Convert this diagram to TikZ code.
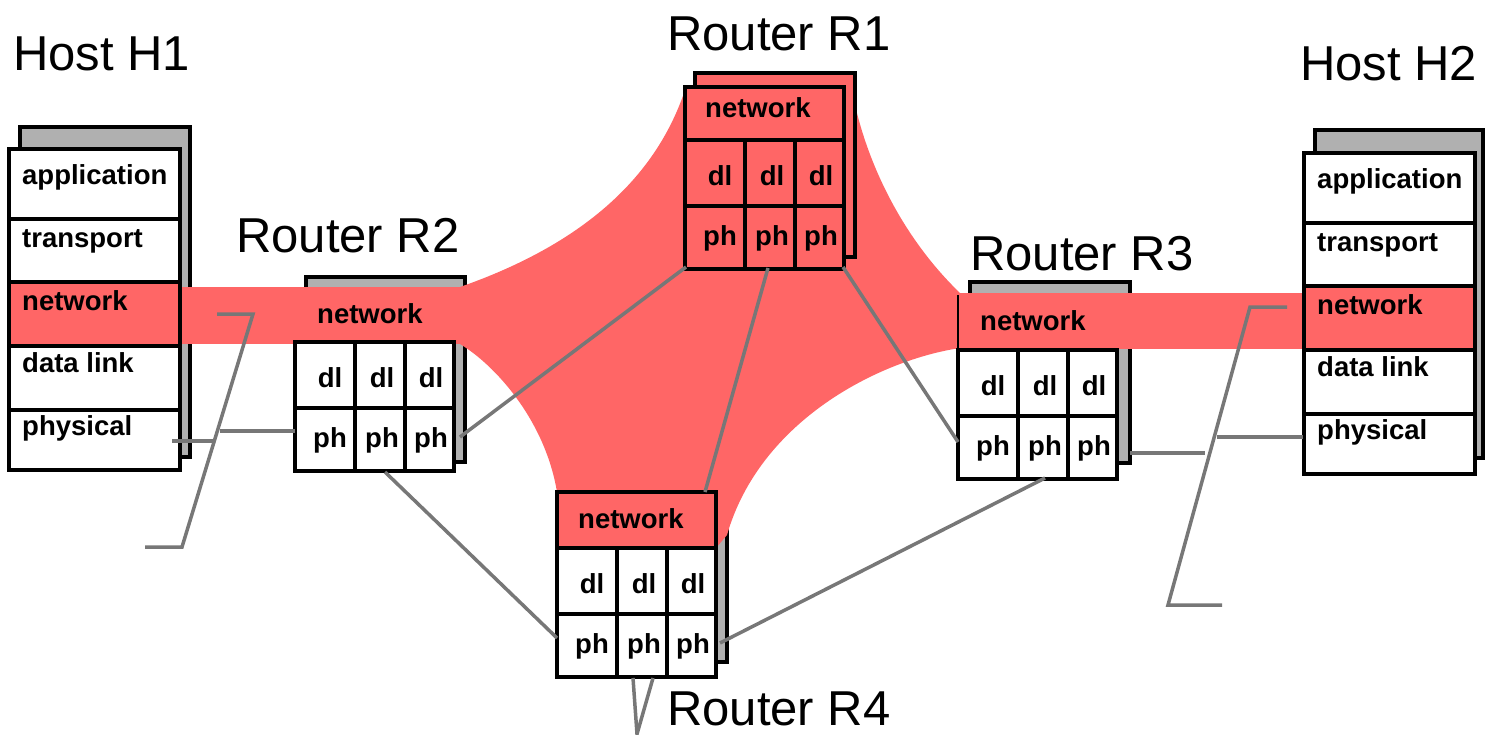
\documentclass[tikz,border=0pt]{standalone}
\usepackage{fontspec}
\setmainfont{Liberation Sans}
\usepackage{tikz}
\definecolor{cNet}{HTML}{FF6666}
\definecolor{cBack}{HTML}{B0B0B0}
\definecolor{cWire}{HTML}{777777}
\tikzset{
  backbox/.style={draw=black, fill=cBack, line width=4.5pt},
  netback/.style={draw=black, fill=cNet, line width=4.5pt},
  boxline/.style={draw=black, line width=4.5pt},
  cellline/.style={black, line width=4pt},
  wire/.style={cWire, line width=3.5pt},
  layertxt/.style={font=\fontsize{27.5}{30}\selectfont\bfseries, inner sep=0pt, anchor=base west},
  celltxt/.style={font=\fontsize{27.5}{30}\selectfont\bfseries, inner sep=0pt, anchor=base},
  title/.style={font=\fontsize{49}{52}\selectfont, inner sep=0pt, anchor=base west},
}
% host stack: name, left x, top y
\newcommand{\hoststack}[3]{%
  \fill[white] (#2,#3) rectangle ++(171,321);
  \fill[cNet] ({#2},{#3+133}) rectangle ++(171,64);
  \foreach \dy in {70,133,197,261} \draw[cellline] ({#2},{#3+\dy}) -- ++(171,0);
  \draw[boxline] (#2,#3) rectangle ++(171,321);
  \foreach \txt/\dy [count=\i] in {application/35,transport/98,network/161,data link/223,physical/286}
    \node[layertxt] (#1-\i) at ({#2+13},{#3+\dy}) {\txt};
}
% dl/ph grid of a router: [fill], name, left x, top y
\newcommand{\dlph}[4][white]{%
  \fill[#1] (#3,#4) rectangle ++(159,129);
  \draw[cellline] ({#3},{#4+66}) -- ++(159,0);
  \draw[cellline] ({#3+60},{#4}) -- ++(0,129);
  \draw[cellline] ({#3+110},{#4}) -- ++(0,129);
  \draw[boxline] (#3,#4) rectangle ++(159,129);
  \foreach \cx [count=\i] in {35,87,136} {
    \node[celltxt] (#2-dl\i) at ({#3+\cx},{#4+45}) {dl};
    \node[celltxt] (#2-ph\i) at ({#3+\cx},{#4+105}) {ph};
  }
}

\begin{document}
\begin{tikzpicture}[x=1pt, y=-1pt]
\useasboundingbox (0,0) rectangle (1491,734);

\node[title] (tH1) at (13,70) {Host H1};
\node[title] (tR1) at (667,50) {Router R1};
\node[title] (tR2) at (236,252) {Router R2};
\node[title] (tR3) at (970,270) {Router R3};
\node[title] (tH2) at (1300,80) {Host H2};
\node[title] (tR4) at (667,725) {Router R4};

\draw[backbox] (20,127) rectangle (190,457);
\draw[backbox] (1315,130) rectangle (1483,458);
\draw[backbox] (306,277) rectangle (465,462);
\draw[backbox] (970,282) rectangle (1130,463);
\draw[backbox] (568,478) rectangle (727,662);

\fill[cNet] (180,287) rectangle (470,344);
\fill[cNet] (955,293) rectangle (1304,349);
\fill[cNet] (460,287) .. controls (580,245) and (655,180) .. (685,90)
  -- (855,105) .. controls (870,170) and (905,240) .. (960,293)
  -- (960,348) .. controls (880,360) and (760,420) .. (727,535)
  -- (716,548) -- (557,548) -- (557,492)
  .. controls (545,420) and (495,365) .. (460,344) -- cycle;

\draw[netback] (695,73) rectangle (855,257);

\hoststack{H1}{9}{149}
\hoststack{H2}{1304}{153}

\dlph{R2}{295}{342}
\node[layertxt] (R2-net) at (317,323) {network};

\fill[cNet] (685,87) rectangle (843,140);
\dlph[cNet]{R1}{685}{140}
\draw[boxline] (685,87) rectangle (844,140);
\node[layertxt] (R1-net) at (705,117) {network};

\draw[line width=1.2pt] (958,295) -- (958,350);
\dlph{R3}{958}{350}
\node[layertxt] (R3-net) at (980,330) {network};

\draw[boxline, fill=cNet] (557,492) rectangle (716,548);
\dlph{R4}{557}{548}
\node[layertxt] (R4-net) at (578,528) {network};

\coordinate (h1ph) at (172,441);
\coordinate (h1cut) at (213,441);
\coordinate (r2cut) at (220,431);
\coordinate (r2w) at (295,431);
\coordinate (r2e) at (460,437);
\coordinate (r2s) at (385,472);
\coordinate (r1sw) at (686,267);
\coordinate (r1s) at (768,268);
\coordinate (r1se) at (843,267);
\coordinate (r3w) at (958,442);
\coordinate (r3s) at (1045,478);
\coordinate (r3e) at (1130,453);
\coordinate (h2cut) at (1205,453);
\coordinate (r3cut) at (1217,437);
\coordinate (h2ph) at (1303,437);
\coordinate (r4n) at (705,492);
\coordinate (r4w) at (557,638);
\coordinate (r4e) at (720,643);
\coordinate (r4s1) at (633,678);
\coordinate (r4s2) at (653,678);
\coordinate (r4v) at (637,734);

\draw[wire] (h1ph) -- (h1cut);
\draw[wire] (r2cut) -- (r2w);
\draw[wire] (145,547) -- (182,547) -- (253,314) -- (217,314);
\draw[wire] (r2e) -- (r1sw);
\draw[wire] (r2s) -- (r4w);
\draw[wire] (r1s) -- (r4n);
\draw[wire] (r1se) -- (r3w);
\draw[wire] (r3s) -- (r4e);
\draw[wire] (r3e) -- (h2cut);
\draw[wire] (r3cut) -- (h2ph);
\draw[wire] (1222,605) -- (1168,605) -- (1250,307) -- (1287,307);
\draw[wire] (r4s1) -- (r4v) -- (r4s2);
\end{tikzpicture}
\end{document}
